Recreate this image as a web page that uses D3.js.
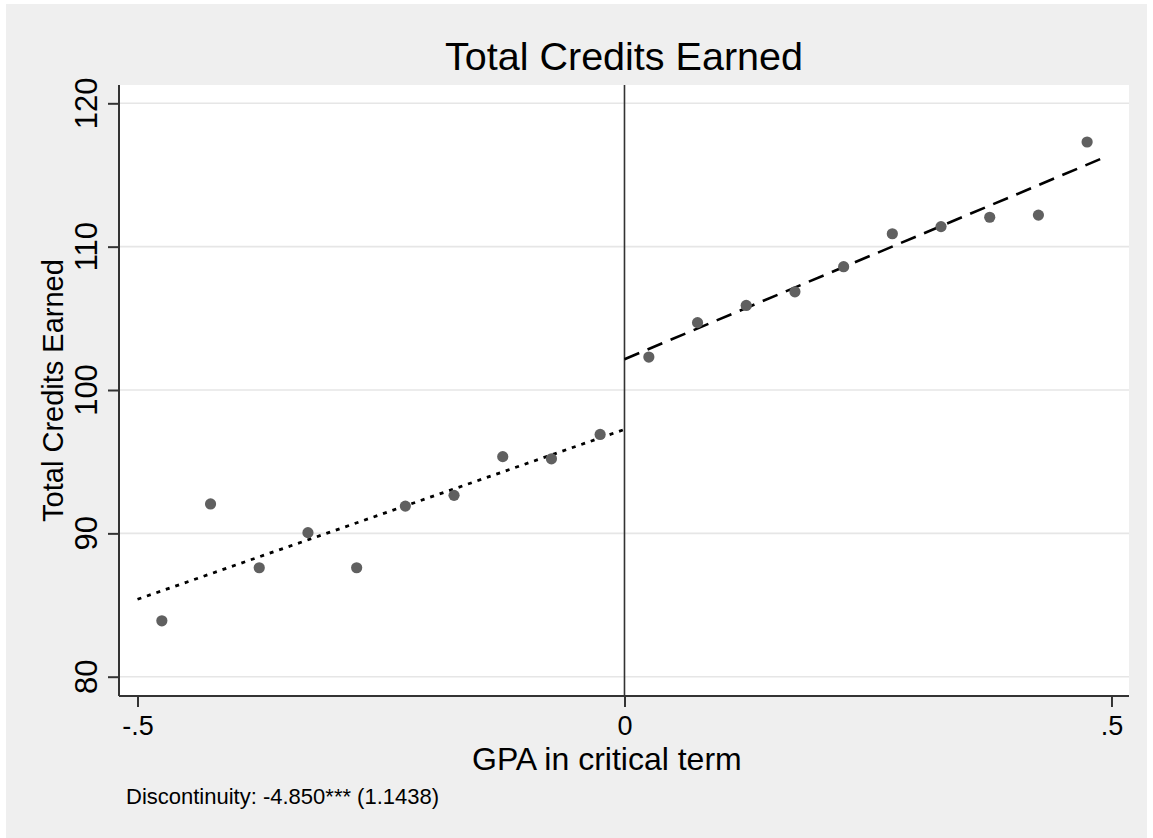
<!DOCTYPE html>
<html>
<head>
<meta charset="utf-8">
<script src="https://cdn.jsdelivr.net/npm/d3@7"></script>
<style>
	body { margin:0; background:#fff; }
	svg text { font-family:"Liberation Sans", Arial, Helvetica, sans-serif; fill:#000; }
</style>
</head>
<body>
<svg id="chart" width="1153" height="838"></svg>
<script>

// binned means of total credits by gpa distance from cutoff
var binX = [-0.475, -0.425, -0.375, -0.325, -0.275, -0.225, -0.175, -0.125, -0.075, -0.025,
	0.025, 0.075, 0.125, 0.175, 0.225, 0.275, 0.325, 0.375, 0.425, 0.475];
var creditsMean = [83.9, 92.05, 87.6, 90.05, 87.6, 91.9, 92.65, 95.35, 95.2, 96.9,
	102.3, 104.7, 105.9, 106.85, 108.6, 110.9, 111.4, 112.05, 112.2, 117.3];

// linear fits either side of the cutoff
var fitLeftX = [-0.5, 0];
var fitLeftY = [85.4, 97.25];
var fitRightX = [0, 0.49];
var fitRightY = [102.15, 116.15];

var yTicks = [80, 90, 100, 110, 120];
var xTicks = [-0.5, 0, 0.5];
var xTickLabels = ["-.5", "0", ".5"];

var titleText = "Total Credits Earned";
var yTitle = "Total Credits Earned";
var xTitle = "GPA in critical term";
var noteText = "Discontinuity: -4.850*** (1.1438)";

var svg = d3.select("#chart");

var plot = {left:119, right:1129, top:85, bottom:696};

var x = d3.scaleLinear().domain([-0.519, 0.518]).range([plot.left, plot.right]);
var y = d3.scaleLinear().domain([78.654, 121.277]).range([plot.bottom, plot.top]);

// outer gray background and white plot region
svg.append("rect").attr("x", 6).attr("y", 4).attr("width", 1141).attr("height", 834).attr("fill", "#efefef");
svg.append("rect").attr("x", plot.left).attr("y", plot.top)
	.attr("width", plot.right - plot.left).attr("height", plot.bottom - plot.top).attr("fill", "#fff");

// horizontal grid
svg.append("g").selectAll("line")
	.data(yTicks)
	.enter().append("line")
		.attr("x1", plot.left).attr("x2", plot.right)
		.attr("y1", function(d) { return y(d); }).attr("y2", function(d) { return y(d); })
		.attr("stroke", "#e6e6e6").attr("stroke-width", 1.6);

// axes
var yAxis = d3.axisLeft(y).tickValues(yTicks).tickSize(11).tickPadding(0).tickFormat(function(d) { return ""; });
var xAxis = d3.axisBottom(x).tickValues(xTicks).tickSize(11).tickFormat(function(d, i) { return xTickLabels[i]; });

var gy = svg.append("g").attr("transform", "translate(" + plot.left + ",0)").call(yAxis);
gy.select(".domain").attr("d", "M0," + plot.bottom + "V" + plot.top).attr("stroke", "#333").attr("stroke-width", 2);
gy.selectAll(".tick line").attr("stroke", "#333").attr("stroke-width", 2);

// rotated y tick labels
svg.append("g").selectAll("text")
	.data(yTicks)
	.enter().append("text")
		.attr("transform", function(d) { return "translate(97," + y(d) + ") rotate(-90)"; })
		.attr("text-anchor", "middle")
		.style("font-size", "31px")
		.text(function(d) { return d; });

var gx = svg.append("g").attr("transform", "translate(0," + plot.bottom + ")").call(xAxis);
gx.select(".domain").attr("d", "M" + plot.left + ",0H" + plot.right).attr("stroke", "#333").attr("stroke-width", 2);
gx.selectAll(".tick line").attr("stroke", "#333").attr("stroke-width", 2);
gx.selectAll(".tick text").attr("y", 39).attr("dy", null).style("font-size", "27px").attr("fill", "#000");

// cutoff line
svg.append("line")
	.attr("x1", x(0)).attr("x2", x(0)).attr("y1", plot.top).attr("y2", plot.bottom)
	.attr("stroke", "#333").attr("stroke-width", 1.6);

// fitted lines
var line = d3.line()
		.x(function(d) { return x(d[0]); })
		.y(function(d) { return y(d[1]); });

svg.append("path")
	.attr("d", line(d3.zip(fitLeftX, fitLeftY)))
	.attr("fill", "none").attr("stroke", "#000").attr("stroke-width", 2.8)
	.attr("stroke-dasharray", "4,6");

svg.append("path")
	.attr("d", line(d3.zip(fitRightX, fitRightY)))
	.attr("fill", "none").attr("stroke", "#000").attr("stroke-width", 2.6)
	.attr("stroke-dasharray", "16,9");

// binned means
svg.append("g").selectAll("circle")
	.data(d3.zip(binX, creditsMean))
	.enter().append("circle")
		.attr("cx", function(d) { return x(d[0]); })
		.attr("cy", function(d) { return y(d[1]); })
		.attr("r", 5.6)
		.attr("fill", "#606060");

// titles
svg.append("text")
	.attr("x", (plot.left + plot.right) / 2).attr("y", 70)
	.attr("text-anchor", "middle")
	.style("font-size", "39.5px")
	.text(titleText);

svg.append("text")
	.attr("transform", "translate(63," + (plot.top + plot.bottom) / 2 + ") rotate(-90)")
	.attr("text-anchor", "middle")
	.style("font-size", "29px")
	.text(yTitle);

svg.append("text")
	.attr("x", 472).attr("y", 770)
	.style("font-size", "32px")
	.text(xTitle);

svg.append("text")
	.attr("x", 126).attr("y", 804)
	.style("font-size", "22px")
	.text(noteText);

</script>
</body>
</html>
